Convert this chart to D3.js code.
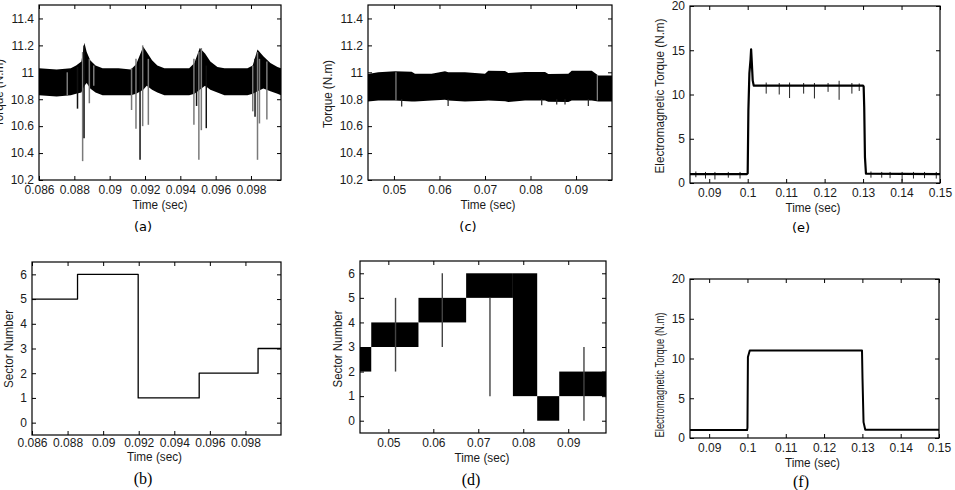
<!DOCTYPE html>
<html>
<head>
<meta charset="utf-8">
<script src="https://cdn.jsdelivr.net/npm/d3@7"></script>
<style>
  body { margin: 0; background: #fff; }
  svg { display: block; }
</style>
</head>
<body>
<div id="chart"></div>
<script>
// ---- (a) torque band, conventional DTC ----
var timeA  = [0.0860, 0.0870, 0.0878, 0.0881, 0.0884, 0.08857, 0.0887, 0.0889, 0.0892, 0.0896,
              0.0905, 0.0912, 0.0915, 0.0919, 0.0921, 0.0924, 0.0927, 0.0931,
              0.0945, 0.0948, 0.0951, 0.0954, 0.0957, 0.0961, 0.0965,
              0.0978, 0.0981, 0.09837, 0.0987, 0.0991, 0.0995, 0.0997];
var upperA = [11.03, 11.02, 11.03, 11.05, 11.08, 11.22, 11.15, 11.09, 11.05, 11.03,
              11.03, 11.02, 11.06, 11.19, 11.15, 11.09, 11.05, 11.03,
              11.03, 11.07, 11.18, 11.14, 11.08, 11.04, 11.03,
              11.03, 11.05, 11.17, 11.12, 11.07, 11.04, 11.03];
var lowerA = [10.83, 10.82, 10.83, 10.84, 10.85, 10.90, 10.92, 10.88, 10.85, 10.83,
              10.83, 10.83, 10.84, 10.87, 10.90, 10.87, 10.85, 10.83,
              10.83, 10.84, 10.87, 10.90, 10.87, 10.85, 10.83,
              10.83, 10.84, 10.86, 10.88, 10.86, 10.84, 10.83];
// spikes: [time, low, high]
var darkSpikesA = [[0.08818, 10.73, 11.04], [0.08855, 10.51, 11.2], [0.09172, 10.35, 11.1],
                   [0.09492, 10.75, 11.1], [0.09547, 10.585, 11.05], [0.09823, 10.67, 11.1]];
var greySpikesA = [[0.0876, 10.83, 11.0], [0.08847, 10.34, 11.15], [0.08885, 10.77, 11.1],
                   [0.0891, 10.9, 11.05], [0.09124, 10.72, 11.03], [0.09149, 10.58, 11.1],
                   [0.09187, 10.6, 11.2], [0.09219, 10.61, 11.1], [0.09477, 10.61, 11.1],
                   [0.09505, 10.35, 11.15], [0.09519, 10.57, 11.18], [0.0981, 10.71, 11.05],
                   [0.09837, 10.35, 11.15], [0.09848, 10.62, 11.1], [0.0989, 10.65, 11.08]];

// ---- (b) sector number, conventional ----
var stepTimeB   = [0.086, 0.08856, 0.09197, 0.0954, 0.09871];
var stepSectorB = [5, 6, 1, 2, 3];

// ---- (c) torque band, proposed ----
var timeC  = [0.0443, 0.04655, 0.05022, 0.05389, 0.05462, 0.05828, 0.06121, 0.06194, 0.0656, 0.0700,
              0.07073, 0.0744, 0.07513, 0.07879, 0.08319, 0.08392, 0.08831, 0.08905, 0.09345, 0.0949, 0.0979];
var upperC = [10.988, 11.0, 11.007, 11.005, 10.99, 10.99, 11.007, 11.0, 11.0, 10.99,
              11.012, 11.01, 10.995, 11.002, 11.002, 10.988, 10.99, 11.012, 11.012, 10.977, 10.977];
var lowerC = [10.783, 10.79, 10.79, 10.783, 10.783, 10.79, 10.796, 10.79, 10.783, 10.788,
              10.79, 10.785, 10.779, 10.79, 10.79, 10.782, 10.779, 10.79, 10.79, 10.783, 10.783];
var darkSpikesC = [[0.0517, 10.746, 10.8], [0.0619, 10.75, 10.8], [0.08246, 10.755, 10.8],
                   [0.08576, 10.76, 10.8], [0.08758, 10.76, 10.8], [0.0927, 10.75, 10.8]];
var greySpikesC = [[0.05044, 10.79, 11.0], [0.09468, 10.79, 10.98]];

// ---- (d) sector number, proposed (fast switching between two sectors) ----
var blockStartD = [0.0437, 0.0462, 0.0567, 0.0673, 0.0777, 0.0831, 0.0880];
var blockEndD   = [0.0462, 0.0567, 0.0673, 0.0777, 0.0831, 0.0880, 0.0984];
var blockLowD   = [2, 3, 4, 5, 1, 0, 1];
var blockHighD  = [3, 4, 5, 6, 6, 1, 2];
var spikesD     = [[0.0516, 2, 5], [0.062, 3, 6], [0.0726, 1, 5], [0.0935, 0, 3]];

// ---- (e) electromagnetic torque step, conventional ----
var timeE   = [0.085, 0.0998, 0.1000, 0.10018, 0.10044, 0.10075, 0.10089, 0.10104, 0.1013, 0.10157,
               0.1300, 0.13015, 0.1303, 0.13049, 0.13075, 0.15];
var torqueE = [1.0, 1.0, 1.1, 8.2, 12.4, 14.0, 15.1, 13.9, 11.6, 11.0,
               11.0, 10.9, 8.5, 2.9, 1.05, 1.0];
var spikesE = [[0.10481, 10.1, 11.35], [0.1082, 10.0, 11.3], [0.11089, 9.6, 11.35], [0.11455, 10.1, 11.3],
               [0.11735, 9.55, 11.3], [0.1209, 10.3, 11.3], [0.12377, 9.4, 11.55], [0.12709, 10.1, 11.3],
               [0.129, 10.4, 11.25],
               [0.08652, 0.65, 1.3], [0.08903, 0.5, 1.25], [0.09148, 0.4, 1.25], [0.09496, 0.6, 1.25],
               [0.09801, 0.5, 1.25], [0.13205, 0.6, 1.3], [0.13485, 0.6, 1.25], [0.13702, 0.55, 1.25],
               [0.14015, 0.15, 1.25], [0.1431, 0.5, 1.25], [0.14598, 0.55, 1.25], [0.14903, 0.5, 1.25]];

// ---- (f) electromagnetic torque step, proposed ----
var timeF   = [0.085, 0.0999, 0.1000, 0.10012, 0.1006, 0.1299, 0.13003, 0.1303, 0.13075, 0.15];
var torqueF = [1.0, 1.0, 1.3, 10.2, 11.0, 11.0, 7.5, 2.0, 1.05, 1.05];

// ---- ticks ----
var ticksTimeAB = [0.086, 0.088, 0.09, 0.092, 0.094, 0.096, 0.098];
var ticksTimeCD = [0.05, 0.06, 0.07, 0.08, 0.09];
var ticksTimeEF = [0.09, 0.1, 0.11, 0.12, 0.13, 0.14, 0.15];
var ticksTorque = [10.2, 10.4, 10.6, 10.8, 11, 11.2, 11.4];
var ticksSector = [0, 1, 2, 3, 4, 5, 6];
var ticksEm     = [0, 5, 10, 15, 20];

var width = 955, height = 490;
var svg = d3.select("#chart").append("svg")
    .attr("width", width)
    .attr("height", height);

var fmt = d3.format("~g");
var sans = "'Liberation Sans', Arial, sans-serif";
var capSans = "'DejaVu Sans', sans-serif";
var serif = "'Liberation Serif', serif";

function band(g, x, y, t, up, lo) {
  var area = d3.area()
      .x(function(d, i) { return x(t[i]); })
      .y0(function(d, i) { return y(lo[i]); })
      .y1(function(d, i) { return y(up[i]); });
  g.append("path").datum(t).attr("d", area).attr("fill", "#000");
}

function spikes(g, x, y, data, colour, w) {
  g.selectAll(null).data(data).enter().append("line")
    .attr("x1", function(d) { return x(d[0]); })
    .attr("x2", function(d) { return x(d[0]); })
    .attr("y1", function(d) { return y(d[1]); })
    .attr("y2", function(d) { return y(d[2]); })
    .attr("stroke", colour)
    .attr("stroke-width", w);
}

function trace(g, x, y, t, v, w, curve) {
  var line = d3.line()
      .x(function(d, i) { return x(t[i]); })
      .y(function(d, i) { return y(v[i]); })
      .curve(curve || d3.curveLinear);
  g.append("path").datum(t).attr("d", line)
    .attr("fill", "none").attr("stroke", "#000").attr("stroke-width", w)
    .attr("stroke-linejoin", "round");
}

function panel(p) {
  var x = d3.scaleLinear().domain(p.xDomain).range([p.left, p.right]);
  var y = d3.scaleLinear().domain(p.yDomain).range([p.bottom, p.top]);
  var g = svg.append("g");

  svg.append("clipPath").attr("id", "clip-" + p.name)
    .append("rect")
      .attr("x", p.left).attr("y", p.top)
      .attr("width", p.right - p.left).attr("height", p.bottom - p.top);
  var plot = g.append("g").attr("clip-path", "url(#clip-" + p.name + ")");
  p.draw(plot, x, y);

  function style(a) {
    a.select(".domain").remove();
    a.attr("font-family", sans).attr("font-size", 12);
    a.selectAll("text").attr("fill", "#1a1a1a");
    a.selectAll("line").attr("stroke", "#000");
  }

  g.append("g").attr("transform", "translate(0," + p.bottom + ")")
    .call(d3.axisBottom(x).tickValues(p.xTicks).tickFormat(fmt)
      .tickSizeInner(-4).tickSizeOuter(0).tickPadding(p.xPad || 5))
    .call(style);
  g.append("g").attr("transform", "translate(0," + p.top + ")")
    .call(d3.axisTop(x).tickValues(p.xTicks).tickFormat("")
      .tickSizeInner(-4).tickSizeOuter(0))
    .call(style);
  g.append("g").attr("transform", "translate(" + p.left + ",0)")
    .call(d3.axisLeft(y).tickValues(p.yTicks).tickFormat(fmt)
      .tickSizeInner(-4).tickSizeOuter(0).tickPadding(5))
    .call(style);
  g.append("g").attr("transform", "translate(" + p.right + ",0)")
    .call(d3.axisRight(y).tickValues(p.yTicks).tickFormat("")
      .tickSizeInner(-4).tickSizeOuter(0))
    .call(style);

  g.append("rect")
    .attr("x", p.left).attr("y", p.top)
    .attr("width", p.right - p.left).attr("height", p.bottom - p.top)
    .attr("fill", "none").attr("stroke", "#000").attr("stroke-width", 1.2);

  g.append("text")
    .attr("x", (p.left + p.right) / 2 + p.timeShift).attr("y", p.timeY)
    .attr("text-anchor", "middle")
    .attr("font-family", sans).attr("font-size", 12).attr("fill", "#1a1a1a")
    .attr("textLength", 55).attr("lengthAdjust", "spacingAndGlyphs")
    .text("Time (sec)");

  g.append("text")
    .attr("transform", "translate(" + p.yLabelX + "," + p.yLabelY + ") rotate(-90)")
    .attr("text-anchor", "middle")
    .attr("font-family", sans).attr("font-size", 12).attr("fill", "#1a1a1a")
    .attr("textLength", p.yLabelLen).attr("lengthAdjust", "spacingAndGlyphs")
    .text(p.yLabel);

  g.append("text")
    .attr("x", p.capX).attr("y", p.capY)
    .attr("text-anchor", "middle")
    .attr("font-family", p.capFont).attr("font-size", p.capSize).attr("fill", "#000")
    .text(p.caption);
}

panel({
  name: "a", left: 39, right: 281, top: 5, bottom: 180,
  xDomain: [0.086, 0.0997], yDomain: [10.2, 11.5],
  xTicks: ticksTimeAB, yTicks: ticksTorque,
  timeY: 209, timeShift: 0,
  yLabel: "Torque (N.m)", yLabelX: 3, yLabelY: 93, yLabelLen: 68,
  caption: "(a)", capX: 143, capY: 231, capFont: capSans, capSize: 13,
  draw: function(g, x, y) {
    band(g, x, y, timeA, upperA, lowerA);
    spikes(g, x, y, greySpikesA, "#7a7a7a", 1.5);
    spikes(g, x, y, darkSpikesA, "#111", 1.5);
  }
});

panel({
  name: "c", left: 368, right: 612, top: 5, bottom: 180,
  xDomain: [0.0443, 0.0979], yDomain: [10.2, 11.5],
  xTicks: ticksTimeCD, yTicks: ticksTorque,
  timeY: 209, timeShift: -2,
  yLabel: "Torque (N.m)", yLabelX: 332, yLabelY: 94, yLabelLen: 68,
  caption: "(c)", capX: 468, capY: 231, capFont: capSans, capSize: 13,
  draw: function(g, x, y) {
    band(g, x, y, timeC, upperC, lowerC);
    spikes(g, x, y, darkSpikesC, "#222", 1.2);
    spikes(g, x, y, greySpikesC, "#888", 1.2);
  }
});

panel({
  name: "e", left: 690, right: 940, top: 6, bottom: 183,
  xDomain: [0.085, 0.15], yDomain: [0, 20],
  xTicks: ticksTimeEF, yTicks: ticksEm,
  timeY: 212, timeShift: -2,
  yLabel: "Electromagnetic Torque (N.m)", yLabelX: 664, yLabelY: 96, yLabelLen: 155,
  caption: "(e)", capX: 801, capY: 232, capFont: capSans, capSize: 13,
  draw: function(g, x, y) {
    spikes(g, x, y, spikesE, "#222", 1);
    trace(g, x, y, timeE, torqueE, 2.2);
  }
});

panel({
  name: "b", left: 32, right: 281, top: 262, bottom: 435,
  xDomain: [0.086, 0.1], yDomain: [-0.5, 6.5],
  xTicks: ticksTimeAB, yTicks: ticksSector, xPad: 3,
  timeY: 461, timeShift: -2,
  yLabel: "Sector Number", yLabelX: 13, yLabelY: 349, yLabelLen: 78,
  caption: "(b)", capX: 143, capY: 484, capFont: serif, capSize: 16,
  draw: function(g, x, y) {
    trace(g, x, y, stepTimeB.concat([x.domain()[1]]),
      stepSectorB.concat([stepSectorB[stepSectorB.length - 1]]), 1.3, d3.curveStepAfter);
  }
});

panel({
  name: "d", left: 360, right: 606, top: 261, bottom: 433,
  xDomain: [0.0437, 0.0984], yDomain: [-0.5, 6.5],
  xTicks: ticksTimeCD, yTicks: ticksSector,
  timeY: 462, timeShift: -1,
  yLabel: "Sector Number", yLabelX: 342, yLabelY: 349, yLabelLen: 77,
  caption: "(d)", capX: 471, capY: 485, capFont: serif, capSize: 16,
  draw: function(g, x, y) {
    g.selectAll(null).data(blockStartD).enter().append("rect")
      .attr("x", function(d, i) { return x(blockStartD[i]); })
      .attr("width", function(d, i) { return x(blockEndD[i]) - x(blockStartD[i]); })
      .attr("y", function(d, i) { return y(blockHighD[i]); })
      .attr("height", function(d, i) { return y(blockLowD[i]) - y(blockHighD[i]); })
      .attr("fill", "#000");
    spikes(g, x, y, spikesD, "#444", 1.4);
  }
});

panel({
  name: "f", left: 690, right: 939, top: 279, bottom: 438,
  xDomain: [0.085, 0.15], yDomain: [0, 20],
  xTicks: ticksTimeEF, yTicks: ticksEm,
  timeY: 467, timeShift: -2,
  yLabel: "Electromagnetic Torque (N.m)", yLabelX: 664, yLabelY: 375, yLabelLen: 125,
  caption: "(f)", capX: 801, capY: 487, capFont: serif, capSize: 16,
  draw: function(g, x, y) {
    trace(g, x, y, timeF, torqueF, 2);
  }
});
</script>
</body>
</html>
